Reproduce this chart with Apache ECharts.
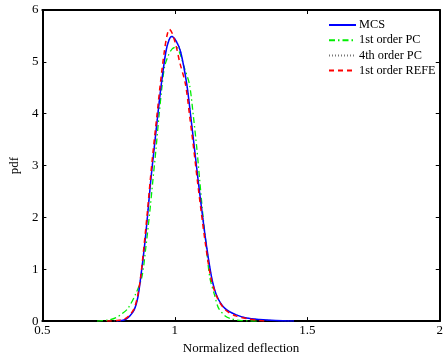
<!DOCTYPE html>
<html><head><meta charset="utf-8">
<script src="https://cdn.jsdelivr.net/npm/echarts@6/dist/echarts.min.js"></script>
<style>html,body{margin:0;padding:0;background:#fff}#c{width:446px;height:360px}</style>
</head><body><div id="c"></div>
<script>
const xTicks = [0.5, 1, 1.5, 2];
const yTicks = [0, 1, 2, 3, 4, 5, 6];
const seriesNames = ['MCS', '1st order PC', '4th order PC', '1st order REFE'];

const mcsX = [0.78, 0.80, 0.816, 0.83, 0.847, 0.86, 0.871, 0.886, 0.898, 0.909, 0.922, 0.935, 0.949, 0.966, 0.978, 0.988, 1.005, 1.022, 1.045, 1.060, 1.074, 1.088, 1.103, 1.119, 1.139, 1.159, 1.19, 1.232, 1.27, 1.319, 1.38, 1.45];
const mcsY = [0, 0.01, 0.04, 0.1, 0.22, 0.45, 0.84, 1.47, 2.09, 2.71, 3.33, 3.95, 4.57, 5.19, 5.42, 5.49, 5.40, 5.19, 4.57, 3.95, 3.33, 2.71, 2.09, 1.47, 0.84, 0.48, 0.24, 0.12, 0.06, 0.03, 0.01, 0];

const pc1X = [0.706, 0.75, 0.78, 0.80, 0.822, 0.85, 0.875, 0.89, 0.905, 0.917, 0.929, 0.94, 0.951, 0.961, 0.975, 0.99, 1.006, 1.02, 1.035, 1.055, 1.07, 1.083, 1.094, 1.105, 1.118, 1.132, 1.15, 1.165, 1.19, 1.21, 1.25, 1.32];
const pc1Y = [0, 0.02, 0.07, 0.14, 0.24, 0.5, 0.84, 1.4, 2.09, 2.71, 3.33, 3.95, 4.5, 4.9, 5.12, 5.25, 5.29, 5.15, 4.9, 4.57, 3.95, 3.33, 2.71, 2.09, 1.47, 0.84, 0.5, 0.25, 0.1, 0.05, 0.01, 0];

const pc4X = [0.77, 0.80, 0.816, 0.83, 0.847, 0.86, 0.871, 0.886, 0.898, 0.909, 0.922, 0.935, 0.949, 0.966, 0.978, 0.988, 1.005, 1.022, 1.045, 1.060, 1.074, 1.088, 1.103, 1.119, 1.139, 1.159, 1.19, 1.232, 1.27, 1.319, 1.38, 1.44];
const pc4Y = [0, 0.01, 0.04, 0.1, 0.22, 0.46, 0.85, 1.48, 2.1, 2.72, 3.34, 3.96, 4.58, 5.2, 5.43, 5.5, 5.41, 5.2, 4.57, 3.95, 3.33, 2.71, 2.09, 1.47, 0.84, 0.48, 0.24, 0.12, 0.06, 0.03, 0.01, 0];

const refeX = [0.743, 0.78, 0.81, 0.83, 0.847, 0.86, 0.871, 0.884, 0.896, 0.907, 0.919, 0.932, 0.945, 0.960, 0.970, 0.979, 0.99, 1.005, 1.018, 1.04, 1.056, 1.071, 1.085, 1.1, 1.116, 1.136, 1.16, 1.19, 1.23, 1.28, 1.34];
const refeY = [0, 0.01, 0.04, 0.12, 0.25, 0.5, 0.86, 1.47, 2.09, 2.71, 3.33, 3.95, 4.57, 5.19, 5.5, 5.63, 5.55, 5.3, 5.0, 4.57, 3.95, 3.33, 2.71, 2.09, 1.47, 0.84, 0.45, 0.22, 0.1, 0.04, 0];

function pairs(xs, ys) { return xs.map((x, i) => [x, ys[i]]); }

const font = 'Liberation Serif';
const chart = echarts.init(document.getElementById('c'), null, {renderer: 'canvas'});
const axisCommon = {
  axisLine: {show: true, onZero: false, lineStyle: {color: '#000', width: 2}},
  axisTick: {show: true, inside: true, length: 4, lineStyle: {color: '#000', width: 1}},
  splitLine: {show: false}
};
chart.setOption({
  animation: false,
  backgroundColor: '#fff',
  grid: {left: 34, right: 4, top: 10, bottom: 28, containLabel: false},
  legend: {
    orient: 'vertical', left: 323, top: 14, itemGap: 3.2, itemWidth: 27, itemHeight: 12,
    itemStyle: {opacity: 0},
    textStyle: {fontFamily: font, fontSize: 12.3, lineHeight: 12, color: '#000', padding: [0, 0, 0, -2]},
    data: seriesNames
  },
  xAxis: [
    Object.assign({}, axisCommon, {
      type: 'value', min: xTicks[0], max: xTicks[xTicks.length - 1], interval: 0.5, position: 'bottom',
      name: 'Normalized deflection', nameLocation: 'middle', nameGap: 20,
      nameTextStyle: {fontFamily: font, fontSize: 13, color: '#000'},
      axisLabel: {fontFamily: font, fontSize: 13, color: '#000', margin: 3, formatter: v => String(v)}
    }),
    Object.assign({}, axisCommon, {
      type: 'value', min: xTicks[0], max: xTicks[xTicks.length - 1], interval: 0.5, position: 'top',
      axisLabel: {show: false}
    })
  ],
  yAxis: [
    Object.assign({}, axisCommon, {
      type: 'value', min: yTicks[0], max: yTicks[yTicks.length - 1], interval: 1, position: 'left',
      name: 'pdf', nameLocation: 'middle', nameGap: 17, nameRotate: 90,
      nameTextStyle: {fontFamily: font, fontSize: 13, color: '#000'},
      axisLabel: {fontFamily: font, fontSize: 13, color: '#000', margin: 4}
    }),
    Object.assign({}, axisCommon, {
      type: 'value', min: yTicks[0], max: yTicks[yTicks.length - 1], interval: 1, position: 'right',
      axisLabel: {show: false}
    })
  ],
  series: [
    {name: seriesNames[0], type: 'line', data: pairs(mcsX, mcsY), smooth: 0.3, symbol: 'none', z: 3,
     lineStyle: {color: '#0000ff', width: 1.5}, itemStyle: {color: '#0000ff'}},
    {name: seriesNames[1], type: 'line', data: pairs(pc1X, pc1Y), smooth: 0.3, symbol: 'none', z: 2,
     lineStyle: {color: '#00ee00', width: 1.3, type: [6, 3, 1.5, 3]}, itemStyle: {color: '#00ee00'}},
    {name: seriesNames[2], type: 'line', data: pairs(pc4X, pc4Y), smooth: 0.3, symbol: 'none', z: 2,
     lineStyle: {color: '#777777', width: 1, type: [1, 2]}, itemStyle: {color: '#777777'}},
    {name: seriesNames[3], type: 'line', data: pairs(refeX, refeY), smooth: 0.3, symbol: 'none', z: 4,
     lineStyle: {color: '#ff0000', width: 1.5, type: [5, 4]}, itemStyle: {color: '#ff0000'}}
  ]
});
</script></body></html>
